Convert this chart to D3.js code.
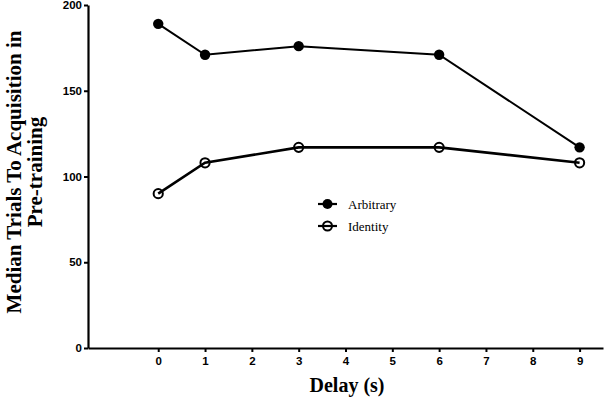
<!DOCTYPE html>
<html lang="en">
<head>
<meta charset="UTF-8">
<title>Median trials to acquisition</title>
<style>
  body { margin: 0; background: #fff; }
  svg text { fill: #000; }
</style>
</head>
<body>
<div id="chart"></div>
<script src="https://cdn.jsdelivr.net/npm/d3@7"></script>
<script>
var delays = [0, 1, 3, 6, 9];
var arbitrary = [189, 171, 176, 171, 117];
var identity = [90, 108, 117, 117, 108];
var xTicks = [0, 1, 2, 3, 4, 5, 6, 7, 8, 9];
var yTicks = [0, 50, 100, 150, 200];

var width = 605, height = 401;
var svg = d3.select('#chart').append('svg')
  .attr('width', width).attr('height', height);

var x = d3.scaleLinear().domain([-1.5, 9.5]).range([88, 603]);
var y = d3.scaleLinear().domain([0, 200]).range([348, 5]);

// axes
var xAxis = svg.append('g').attr('transform', 'translate(0,348)')
  .call(d3.axisBottom(x).tickValues(xTicks).tickSize(4).tickPadding(5).tickSizeOuter(0));
var yAxis = svg.append('g').attr('transform', 'translate(88,0)')
  .call(d3.axisLeft(y).tickValues(yTicks).tickSize(4).tickPadding(2).tickSizeOuter(0));
[xAxis, yAxis].forEach(function(a) {
  a.select('.domain').attr('stroke', '#000').attr('stroke-width', 2.2);
  a.selectAll('.tick line').attr('stroke', '#000').attr('stroke-width', 2);
  a.selectAll('.tick text')
    .attr('font-family', 'Arial, Liberation Sans, sans-serif')
    .attr('font-weight', 'bold').attr('font-size', 11.5);
});

var line = d3.line()
  .x(function(d, i) { return x(delays[i]); })
  .y(function(d) { return y(d); });

svg.append('path').datum(arbitrary).attr('d', line)
  .attr('fill', 'none').attr('stroke', '#000').attr('stroke-width', 2);
svg.append('g').selectAll('circle').data(arbitrary).enter().append('circle')
  .attr('cx', function(d, i) { return x(delays[i]); })
  .attr('cy', function(d) { return y(d); })
  .attr('r', 5.2).attr('fill', '#000');

svg.append('g').selectAll('circle').data(identity).enter().append('circle')
  .attr('cx', function(d, i) { return x(delays[i]); })
  .attr('cy', function(d) { return y(d); })
  .attr('r', 4.6).attr('fill', '#fff').attr('stroke', '#000').attr('stroke-width', 2);
svg.append('path').datum(identity).attr('d', line)
  .attr('fill', 'none').attr('stroke', '#000').attr('stroke-width', 2.6);

// legend
var legend = [{name: 'Arbitrary', filled: true}, {name: 'Identity', filled: false}];
var lg = svg.append('g').selectAll('g').data(legend).enter().append('g')
  .attr('transform', function(d, i) { return 'translate(318,' + (204 + i * 22) + ')'; });
lg.append('circle').attr('cx', 9.5).attr('r', function(d) { return d.filled ? 5 : 4.5; })
  .attr('fill', function(d) { return d.filled ? '#000' : '#fff'; })
  .attr('stroke', '#000').attr('stroke-width', function(d) { return d.filled ? 0 : 2; });
lg.append('line').attr('x1', 0).attr('x2', 19).attr('stroke', '#000').attr('stroke-width', 2.2);
lg.append('text').attr('x', 30).attr('dy', '0.35em')
  .attr('font-family', 'Times New Roman, Liberation Serif, serif')
  .attr('font-size', 13).text(function(d) { return d.name; });

// titles
svg.append('text').attr('x', 347).attr('y', 392).attr('text-anchor', 'middle')
  .attr('font-family', 'Times New Roman, Liberation Serif, serif')
  .attr('font-weight', 'bold').attr('font-size', 20).text('Delay (s)');
var yt = svg.append('text').attr('transform', 'translate(0,172) rotate(-90)')
  .attr('text-anchor', 'middle')
  .attr('font-family', 'Times New Roman, Liberation Serif, serif')
  .attr('font-weight', 'bold').attr('font-size', 21);
yt.append('tspan').attr('x', 0).attr('y', 21).text('Median Trials To Acquisition in');
yt.append('tspan').attr('x', 0).attr('y', 42).text('Pre-training');
</script>
</body>
</html>
